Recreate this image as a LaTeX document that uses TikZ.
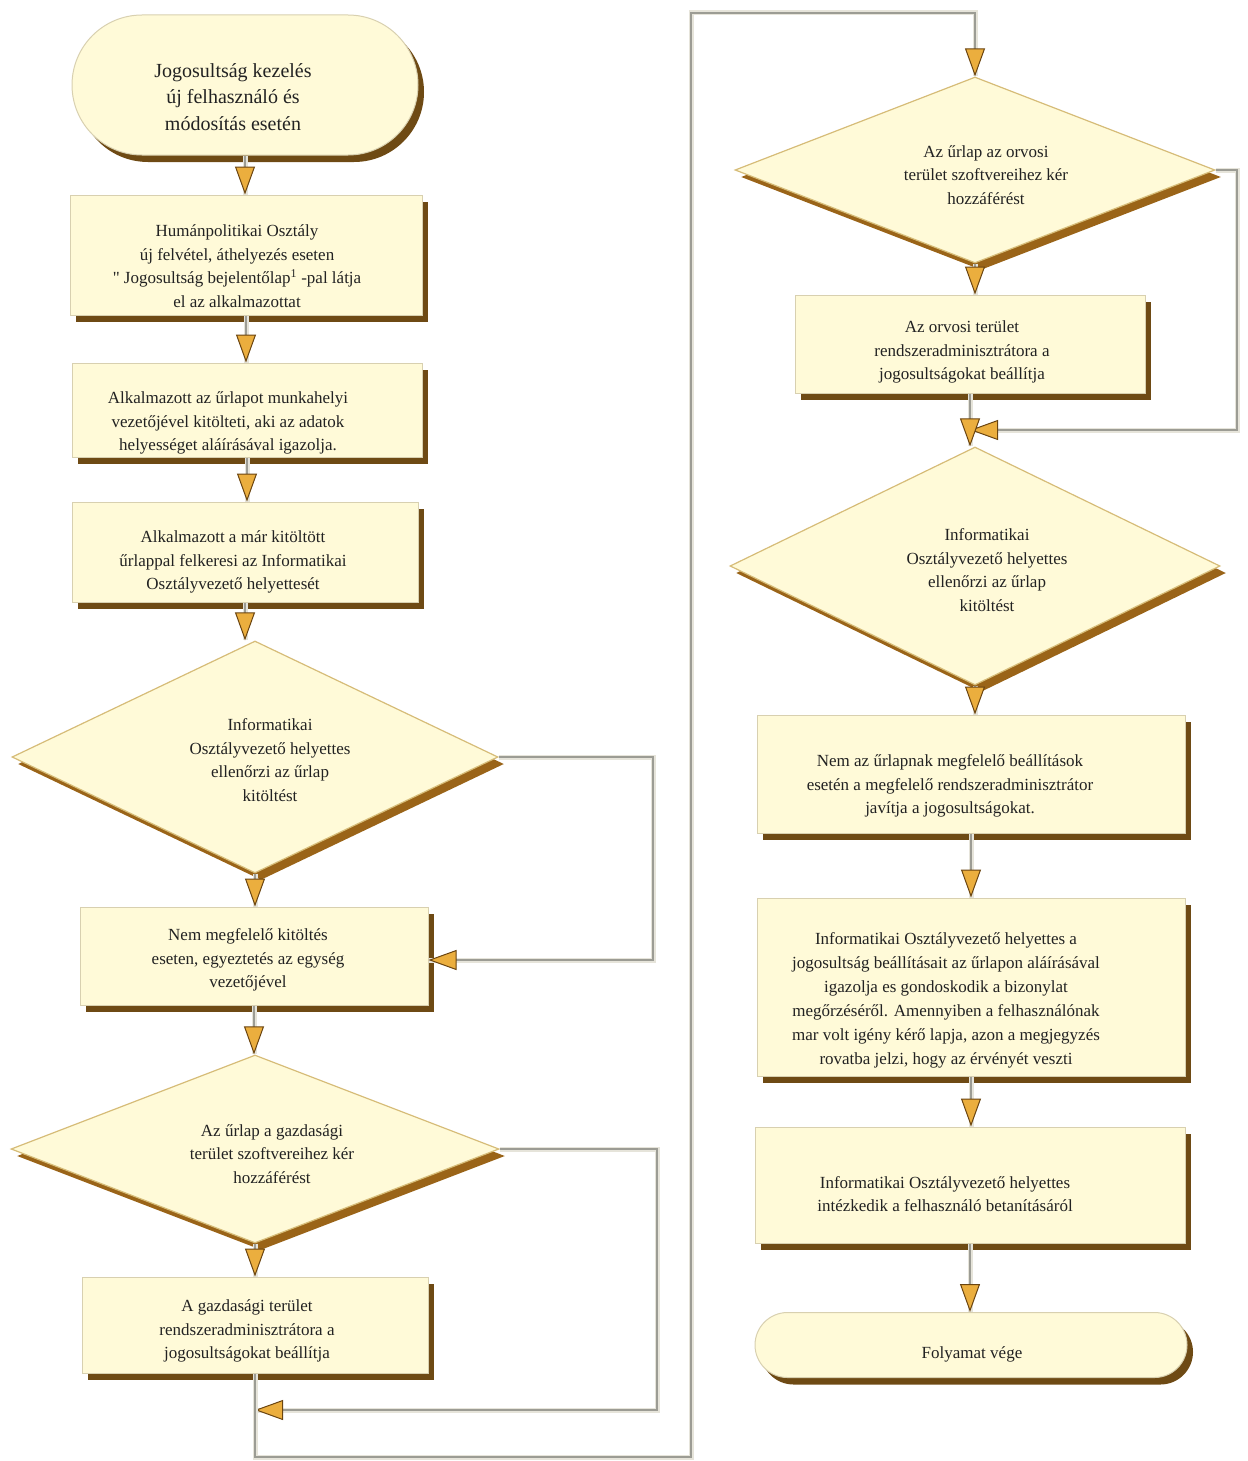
\documentclass[tikz,border=0pt]{standalone}
\usepackage{fontspec}
\setmainfont{Liberation Serif}
\newfontfamily\qfont{Liberation Serif}[Ligatures=TeXOff]
\usetikzlibrary{shapes.geometric,shapes.misc,shadows,arrows.meta}
\definecolor{boxfill}{HTML}{FFFAD8}
\definecolor{boxline}{HTML}{D8D0B0}
\definecolor{shadowbr}{HTML}{6E4A14}
\definecolor{diashadow}{HTML}{9A6418}
\definecolor{diamline}{HTML}{D6BC78}
\definecolor{connline}{HTML}{9C9C94}
\definecolor{connhalo}{HTML}{E6E4DA}
\definecolor{arrowor}{HTML}{EBAE3E}
\definecolor{arrowdk}{HTML}{6A4410}
\definecolor{txt}{HTML}{222222}
\begin{document}
\begin{tikzpicture}[x=1pt,y=-1pt,
  procbox/.style={rectangle, draw=boxline, line width=1pt, fill=boxfill, inner sep=0pt,
    drop shadow={shadow xshift=6pt, shadow yshift=-7pt, fill=shadowbr, opacity=1}},
  termbox/.style={rounded rectangle, rounded rectangle arc length=180, draw=boxline, line width=1pt,
    fill=boxfill, inner sep=0pt,
    drop shadow={shadow xshift=6pt, shadow yshift=-7pt, fill=shadowbr, opacity=1}},
  decbox/.style={diamond, draw=diamline, line width=1.2pt, fill=boxfill, inner sep=0pt,
    drop shadow={shadow xshift=6pt, shadow yshift=-7pt, fill=diashadow, opacity=1}},
  txtnode/.style={align=center, text=txt, inner sep=0pt, font=\fontsize{17}{23.5}\selectfont},
  conn/.style={draw=connline, line width=1.3pt,
    preaction={draw=connhalo, line width=5pt, arrows=-},
    -{Triangle[width=20pt,length=28pt,fill=arrowor,color=arrowdk,line width=1pt]}}
]
\useasboundingbox (0,0) rectangle (1247,1461);

% left column shapes
\node[termbox, minimum width=346pt, minimum height=140pt] (start) at (245,85) {};
\node[procbox, minimum width=352pt, minimum height=120pt] (b1) at (246,255) {};
\node[procbox, minimum width=350pt, minimum height=94pt] (b2) at (247,410) {};
\node[procbox, minimum width=346pt, minimum height=100pt] (b3) at (245,552) {};
\node[decbox, minimum width=486pt, minimum height=232pt] (d1) at (255,757) {};
\node[procbox, minimum width=348pt, minimum height=98pt] (b4) at (254,956) {};
\node[decbox, minimum width=488pt, minimum height=188pt] (d2) at (255,1149) {};
\node[procbox, minimum width=346pt, minimum height=96pt] (b5) at (255,1325) {};

% right column shapes
\node[decbox, minimum width=480pt, minimum height=186pt] (d3) at (975,170) {};
\node[procbox, minimum width=350pt, minimum height=98pt] (b6) at (970,344) {};
\node[decbox, minimum width=490pt, minimum height=238pt] (d4) at (975,566) {};
\node[procbox, minimum width=428pt, minimum height=118pt] (b7) at (971,774) {};
\node[procbox, minimum width=428pt, minimum height=178pt] (b8) at (971,987) {};
\node[procbox, minimum width=430pt, minimum height=116pt] (b9) at (970,1185) {};
\node[termbox, minimum width=432pt, minimum height=65pt] (end) at (971,1345) {};

% texts
\node[txtnode, font=\fontsize{20}{26.5}\selectfont] (st) at (233,97)
  {Jogosultság kezelés\\új felhasználó és\\módosítás esetén};
\node[txtnode] (t1) at (237,266)
  {Humánpolitikai Osztály\\új felvétel, áthelyezés eseten\\{\qfont"} Jogosultság bejelentőlap\textsuperscript{1} -pal látja\\el az alkalmazottat};
\node[txtnode] (t2) at (228,423)
  {Alkalmazott az űrlapot munkahelyi\\vezetőjével kitölteti, aki az adatok\\helyességet aláírásával igazolja.};
\node[txtnode] (t3) at (233,562)
  {Alkalmazott a már kitöltött\\űrlappal felkeresi az Informatikai\\Osztályvezető helyettesét};
\node[txtnode] (td1) at (270,760)
  {Informatikai\\Osztályvezető helyettes\\ellenőrzi az űrlap\\kitöltést};
\node[txtnode] (t4) at (248,960)
  {Nem megfelelő kitöltés\\eseten, egyeztetés az egység\\vezetőjével};
\node[txtnode] (td2) at (272,1154)
  {Az űrlap a gazdasági\\terület szoftvereihez kér\\hozzáférést};
\node[txtnode] (t5) at (247,1331)
  {A gazdasági terület\\rendszeradminisztrátora a\\jogosultságokat beállítja};
\node[txtnode] (td3) at (986,175)
  {Az űrlap az orvosi\\terület szoftvereihez kér\\hozzáférést};
\node[txtnode] (t6) at (962,352)
  {Az orvosi terület\\rendszeradminisztrátora a\\jogosultságokat beállítja};
\node[txtnode] (td4) at (987,570)
  {Informatikai\\Osztályvezető helyettes\\ellenőrzi az űrlap\\kitöltést};
\node[txtnode] (t7) at (950,786)
  {Nem az űrlapnak megfelelő beállítások\\esetén a megfelelő rendszeradminisztrátor\\javítja a jogosultságokat.};
\node[txtnode, font=\fontsize{17}{24}\selectfont] (t8) at (946,1000)
  {Informatikai Osztályvezető helyettes a\\jogosultság beállításait az űrlapon aláírásával\\igazolja es gondoskodik a bizonylat\\megőrzéséről. Amennyiben a felhasználónak\\mar volt igény kérő lapja, azon a megjegyzés\\rovatba jelzi, hogy az érvényét veszti};
\node[txtnode] (t9) at (945,1194)
  {Informatikai Osztályvezető helyettes\\intézkedik a felhasználó betanításáról};
\node[txtnode] (te) at (972,1354) {Folyamat vége};

% helper coordinates
\coordinate (l1a) at (653,960);
\coordinate (l2a) at (657,1410);
\coordinate (j1) at (b5.south |- l2a);
\coordinate (bl) at (691,1457);
\coordinate (tr) at (691,13);
\coordinate (l3a) at (1237,430);
\coordinate (j2) at (b6.south |- l3a);

% connectors left
\draw[conn] (start.south) -- (start.south |- b1.north);
\draw[conn] (b1.south) -- (b1.south |- b2.north);
\draw[conn] (b2.south) -- (b2.south |- b3.north);
\draw[conn] (b3.south) -- (b3.south |- d1.north);
\draw[conn] (d1.south) -- (d1.south |- b4.north);
\draw[conn] (d1.east) -| (l1a) -- (l1a -| b4.east);
\draw[conn] (b4.south) -- (b4.south |- d2.north);
\draw[conn] (d2.south) -- (d2.south |- b5.north);
\draw[conn] (d2.east) -| (l2a) -- (j1);
\draw[conn] (b5.south) |- (bl) -- (tr) -| (d3.north);

% connectors right
\draw[conn] (d3.south) -- (d3.south |- b6.north);
\draw[conn] (d3.east) -| (l3a) -- (j2);
\draw[conn] (b6.south) -- (b6.south |- d4.north);
\draw[conn] (d4.south) -- (d4.south |- b7.north);
\draw[conn] (b7.south) -- (b7.south |- b8.north);
\draw[conn] (b8.south) -- (b8.south |- b9.north);
\draw[conn] (b9.south) -- (b9.south |- end.north);
\end{tikzpicture}
\end{document}
